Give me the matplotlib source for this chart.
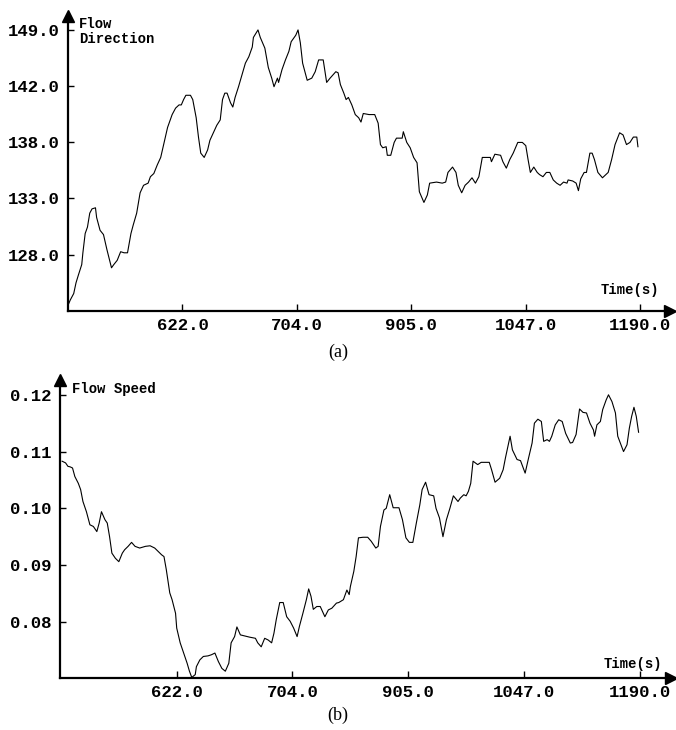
import matplotlib
matplotlib.use('Agg')
import matplotlib.pyplot as plt

# sample index (100 samples between tick marks) and flow direction values
dir_t = [0, 2, 5, 7, 9, 12, 13, 15, 17, 19, 21, 24, 25, 28, 31, 34, 38, 40, 43, 46,
         49, 52, 55, 57, 60, 63, 66, 70, 72, 75, 78, 81, 84, 87, 91, 94, 97, 99, 101, 103,
         107, 109, 112, 114, 116, 119, 122, 124, 127, 130, 133, 135, 137, 139, 142, 144, 146, 149, 152, 155,
         158, 161, 162, 166, 168, 172, 175, 178, 180, 183, 184, 187, 190, 193, 195, 199, 201, 203, 205, 209,
         213, 216, 219, 223, 226, 229, 234, 236, 238, 241, 243, 245, 248, 251, 254, 256, 258, 263, 268, 271,
         273, 275, 278, 279, 282, 285, 287, 292, 293, 296, 299, 302, 305, 307, 311, 314, 316, 322, 327, 330,
         332, 336, 339, 341, 344, 347, 350, 353, 356, 359, 362, 369, 370, 373, 378, 380, 383, 386, 389, 393,
         397, 400, 402, 404, 407, 410, 412, 415, 418, 421, 424, 427, 430, 433, 436, 437, 441, 444, 446, 448,
         451, 453, 456, 458, 460, 463, 467, 470, 472, 475, 478, 482, 485, 488, 491, 494, 497, 498]
dir_val = [123.3, 123.8, 124.4, 125.4, 126.1, 127.1, 128.2, 130.0, 130.6, 131.9, 132.3, 132.4, 131.5, 130.3, 129.9, 128.5, 126.8, 127.1, 127.5, 128.3,
           128.2, 128.2, 130.0, 130.8, 131.9, 133.8, 134.5, 134.7, 135.3, 135.6, 136.4, 137.1, 138.5, 139.9, 141.1, 141.7, 142.0, 142.0, 142.5, 142.9,
           142.9, 142.5, 140.8, 139.0, 137.5, 137.1, 137.8, 138.7, 139.4, 140.1, 140.6, 142.5, 143.1, 143.1, 142.2, 141.8, 142.7, 143.7, 144.8, 145.9,
           146.5, 147.4, 148.3, 149.0, 148.3, 147.3, 145.5, 144.5, 143.7, 144.5, 144.1, 145.3, 146.2, 147.0, 147.9, 148.5, 149.0, 147.8, 145.9, 144.3,
           144.5, 145.1, 146.2, 146.2, 144.1, 144.5, 145.1, 145.0, 143.9, 143.1, 142.5, 142.7, 142.0, 141.1, 140.8, 140.4, 141.2, 141.1, 141.1, 140.3,
           138.3, 138.0, 138.1, 137.3, 137.3, 138.5, 138.9, 138.9, 139.5, 138.5, 138.0, 137.1, 136.6, 133.9, 132.9, 133.6, 134.7, 134.8, 134.7, 134.8,
           135.7, 136.2, 135.7, 134.5, 133.8, 134.5, 134.8, 135.2, 134.7, 135.3, 137.1, 137.1, 136.7, 137.4, 137.3, 136.7, 136.1, 136.9, 137.5, 138.5,
           138.5, 138.2, 136.9, 135.7, 136.2, 135.7, 135.5, 135.3, 135.7, 135.7, 135.0, 134.7, 134.5, 134.8, 134.7, 135.0, 134.9, 134.7, 134.0, 135.1,
           135.7, 135.7, 137.5, 137.5, 136.9, 135.7, 135.2, 135.5, 135.7, 136.9, 138.3, 139.4, 139.2, 138.3, 138.5, 139.0, 139.0, 138.1]

# flow speed
spd_t = [1, 4, 6, 8, 10, 12, 15, 17, 19, 22, 25, 28, 31, 33, 35, 38, 40, 42, 44, 47,
         50, 53, 55, 58, 61, 64, 68, 73, 77, 81, 84, 87, 89, 91, 94, 96, 99, 100, 103, 106,
         109, 111, 113, 116, 117, 120, 123, 127, 130, 133, 136, 139, 142, 145, 147, 150, 152, 155, 159, 163,
         168, 170, 173, 176, 179, 182, 184, 186, 189, 192, 195, 198, 201, 204, 206, 209, 212, 214, 216, 218,
         221, 224, 226, 228, 231, 234, 238, 240, 244, 247, 249, 250, 253, 255, 257, 261, 265, 268, 272, 274,
         276, 279, 281, 284, 287, 292, 295, 298, 301, 304, 307, 310, 312, 315, 318, 322, 324, 327, 330, 333,
         336, 339, 343, 345, 348, 350, 352, 354, 356, 360, 363, 370, 372, 375, 379, 382, 384, 388, 390, 394,
         397, 401, 404, 407, 409, 412, 415, 417, 420, 422, 424, 427, 430, 433, 436, 440, 442, 445, 448, 451,
         454, 457, 460, 461, 463, 466, 468, 471, 473, 476, 479, 481, 486, 489, 491, 493, 495, 497, 499]
spd_val = [0.1083, 0.1080, 0.1074, 0.1073, 0.1071, 0.1056, 0.1044, 0.1033, 0.1012, 0.0994, 0.0971, 0.0968, 0.0959, 0.0974, 0.0994, 0.0980, 0.0974, 0.0950, 0.0921, 0.0912,
           0.0906, 0.0921, 0.0927, 0.0933, 0.0940, 0.0933, 0.0930, 0.0933, 0.0934, 0.0930, 0.0924, 0.0918, 0.0915, 0.0892, 0.0851, 0.0839, 0.0815, 0.0789, 0.0763, 0.0745,
           0.0727, 0.0713, 0.0702, 0.0707, 0.0721, 0.0733, 0.0739, 0.0740, 0.0742, 0.0745, 0.0730, 0.0718, 0.0713, 0.0727, 0.0763, 0.0774, 0.0791, 0.0777, 0.0775, 0.0773,
           0.0771, 0.0763, 0.0756, 0.0771, 0.0768, 0.0763, 0.0780, 0.0804, 0.0834, 0.0834, 0.0809, 0.0801, 0.0789, 0.0774, 0.0792, 0.0815, 0.0839, 0.0858, 0.0845, 0.0822,
           0.0827, 0.0827, 0.0818, 0.0809, 0.0821, 0.0824, 0.0833, 0.0834, 0.0839, 0.0856, 0.0848, 0.0862, 0.0889, 0.0915, 0.0948, 0.0949, 0.0949, 0.0942, 0.0930, 0.0933,
           0.0968, 0.0997, 0.1000, 0.1024, 0.1001, 0.1001, 0.0980, 0.0948, 0.0940, 0.0940, 0.0974, 0.1006, 0.1033, 0.1046, 0.1024, 0.1022, 0.1000, 0.0983, 0.0950, 0.0980,
           0.1000, 0.1022, 0.1012, 0.1018, 0.1024, 0.1022, 0.1030, 0.1044, 0.1083, 0.1077, 0.1081, 0.1081, 0.1068, 0.1046, 0.1053, 0.1068, 0.1089, 0.1127, 0.1103, 0.1086,
           0.1084, 0.1062, 0.1089, 0.1115, 0.1150, 0.1157, 0.1153, 0.1118, 0.1121, 0.1118, 0.1127, 0.1147, 0.1156, 0.1153, 0.1132, 0.1115, 0.1116, 0.1130, 0.1175, 0.1169,
           0.1168, 0.1150, 0.1138, 0.1127, 0.1147, 0.1153, 0.1174, 0.1191, 0.1200, 0.1188, 0.1168, 0.1127, 0.1100, 0.1112, 0.1141, 0.1162, 0.1178, 0.1162, 0.1134]

# tick labels (times are not evenly spaced, ticks are)
time_labels = ['622.0', '704.0', '905.0', '1047.0', '1190.0']
time_ticks = [100, 200, 300, 400, 500]
dir_labels = ['128.0', '133.0', '138.0', '142.0', '149.0']
dir_ticks = [128.0, 133.27, 138.5, 143.77, 149.0]
spd_ticks = [0.08, 0.09, 0.10, 0.11, 0.12]
spd_labels = ['0.08', '0.09', '0.10', '0.11', '0.12']

mono = 'Liberation Mono'

fig = plt.figure(figsize=(6.76, 7.30), dpi=100)
ax1 = fig.add_axes([0.1006, 0.574, 0.8905, 0.4041])
ax2 = fig.add_axes([0.0888, 0.0712, 0.9038, 0.4082])


def style_axis(ax, ylabel, ylabel_pos, time_pos):
    for s in ['top', 'right']:
        ax.spines[s].set_visible(False)
    for s in ['left', 'bottom']:
        ax.spines[s].set_linewidth(1.6)
    ax.plot(1, 0, '>k', ms=8, transform=ax.transAxes, clip_on=False)
    ax.plot(0, 1, '^k', ms=8, transform=ax.transAxes, clip_on=False)
    ax.set_xticks(time_ticks)
    ax.set_xticklabels(time_labels)
    ax.tick_params(axis='x', direction='in', length=5, width=1, pad=5)
    ax.tick_params(axis='y', direction='in', length=4, width=1, pad=6)
    for lab in ax.get_xticklabels() + ax.get_yticklabels():
        lab.set_fontfamily(mono)
        lab.set_fontweight('bold')
        lab.set_fontsize(12.5)
    ax.text(ylabel_pos[0], ylabel_pos[1], ylabel, transform=ax.transAxes, ha='left', va='top',
            fontfamily=mono, fontweight='bold', fontsize=10, linespacing=1.1)
    ax.text(time_pos[0], time_pos[1], 'Time(s)', transform=ax.transAxes, ha='right', va='center',
            fontfamily=mono, fontweight='bold', fontsize=10)


ax1.plot(dir_t, dir_val, color='black', linewidth=0.8)
ax1.set_xlim(0, 526)
ax1.set_ylim(122.77, 150.3)
ax1.set_yticks(dir_ticks)
ax1.set_yticklabels(dir_labels)
style_axis(ax1, 'Flow\nDirection', (0.018, 0.997), (0.982, 0.071))

ax2.plot(spd_t, spd_val, color='black', linewidth=0.8)
ax2.set_xlim(-0.8, 527)
ax2.set_ylim(0.0701, 0.1226)
ax2.set_yticks(spd_ticks)
ax2.set_yticklabels(spd_labels)
style_axis(ax2, 'Flow Speed', (0.0196, 0.995), (0.985, 0.047))

fig.text(0.5, 1 - 352 / 730, '(a)', ha='center', va='center', fontfamily='Liberation Serif', fontsize=13)
fig.text(0.5, 1 - 715 / 730, '(b)', ha='center', va='center', fontfamily='Liberation Serif', fontsize=13)

fig.savefig('out.png', dpi=100)
